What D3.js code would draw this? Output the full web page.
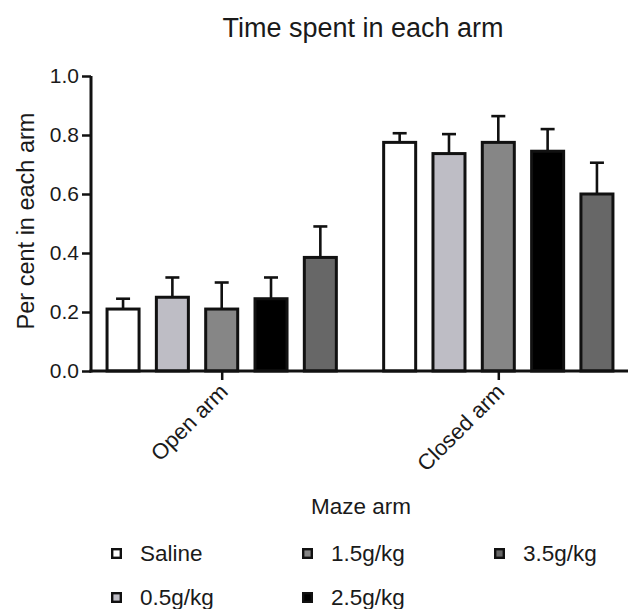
<!DOCTYPE html>
<html>
<head>
<meta charset="utf-8">
<script src="https://cdn.jsdelivr.net/npm/d3@7"></script>
<style>
  html, body { margin: 0; padding: 0; background: #fff; }
  svg { display: block; font-family: "Liberation Sans", Arial, Helvetica, sans-serif; }
  text { fill: #1a1a1a; }
</style>
</head>
<body>
<svg id="chart" width="628" height="609"></svg>
<script>
// Maze arms (x categories) and treatment groups (series)
const arms = ["Open arm", "Closed arm"];
const groups = ["Saline", "0.5g/kg", "1.5g/kg", "2.5g/kg", "3.5g/kg"];
const groupColors = ["#ffffff", "#bebdc5", "#868686", "#000000", "#676767"];

// Mean fraction of time per group, for each arm
const openMeans   = [0.21, 0.25, 0.21, 0.245, 0.385];
const closedMeans = [0.775, 0.737, 0.775, 0.745, 0.60];
// Upper end of each error bar (mean + SEM)
const openErrTop   = [0.245, 0.317, 0.30, 0.317, 0.49];
const closedErrTop = [0.806, 0.803, 0.864, 0.82, 0.706];

const yTicks = [0, 0.2, 0.4, 0.6, 0.8, 1.0];

const svg = d3.select("#chart");
const plotLeft = 91, plotRight = 629, plotTop = 76, plotBottom = 371;

const x = d3.scalePoint().domain(arms).range([plotLeft, plotRight]).padding(0.4725);
const xInner = d3.scaleBand().domain(groups).range([-123.3, 123.3])
  .paddingInner(0.29).paddingOuter(0.145);
const y = d3.scaleLinear().domain([0, 1]).range([plotBottom, plotTop]);
const color = d3.scaleOrdinal().domain(groups).range(groupColors);

const rows = [];
arms.forEach((arm, ai) => {
  const means = ai === 0 ? openMeans : closedMeans;
  const tops = ai === 0 ? openErrTop : closedErrTop;
  groups.forEach((g, gi) => rows.push({ arm, group: g, mean: means[gi], errTop: tops[gi] }));
});

// Error bars (upper whisker only), drawn beneath the bars
const err = svg.append("g").attr("stroke", "#111").attr("stroke-width", 2.6);
rows.forEach(d => {
  const cx = x(d.arm) + xInner(d.group) + xInner.bandwidth() / 2;
  err.append("line").attr("x1", cx).attr("x2", cx).attr("y1", y(d.mean)).attr("y2", y(d.errTop));
  err.append("line").attr("x1", cx - 7).attr("x2", cx + 7).attr("y1", y(d.errTop)).attr("y2", y(d.errTop));
});

// Bars
svg.append("g").selectAll("rect").data(rows).join("rect")
  .attr("x", d => x(d.arm) + xInner(d.group) + 1.5)
  .attr("width", xInner.bandwidth() - 3)
  .attr("y", d => y(d.mean))
  .attr("height", d => y(0) - y(d.mean))
  .attr("fill", d => color(d.group))
  .attr("stroke", "#111")
  .attr("stroke-width", 3);

// Y axis
const yAxis = svg.append("g").attr("transform", `translate(${plotLeft},0)`)
  .call(d3.axisLeft(y).tickValues(yTicks).tickFormat(d3.format(".1f")).tickSize(9).tickPadding(3));
yAxis.select(".domain").attr("stroke", "#111").attr("stroke-width", 3)
  .attr("d", `M0,${plotTop}V${plotBottom + 1.5}`);
yAxis.selectAll(".tick line").attr("stroke", "#111").attr("stroke-width", 2.5);
yAxis.selectAll(".tick text").attr("font-size", 21).attr("fill", "#1a1a1a")
  .attr("font-family", "Liberation Sans, Arial, sans-serif");

// X axis
const xAxis = svg.append("g").attr("transform", `translate(0,${plotBottom})`)
  .call(d3.axisBottom(x).tickSize(9).tickSizeOuter(0).tickFormat(() => ""));
xAxis.select(".domain").attr("stroke", "#111").attr("stroke-width", 3)
  .attr("d", `M${plotLeft - 1.5},0H${plotRight}`);
xAxis.selectAll(".tick line").attr("stroke", "#111").attr("stroke-width", 2.5);
xAxis.selectAll(".tick").append("text")
  .attr("transform", "translate(7,22) rotate(-45)")
  .attr("text-anchor", "end")
  .attr("font-size", 22)
  .attr("fill", "#1a1a1a")
  .text(d => d);

// Titles
svg.append("text").attr("x", 363).attr("y", 37).attr("text-anchor", "middle")
  .attr("font-size", 27).text("Time spent in each arm");
svg.append("text").attr("transform", "translate(34,221) rotate(-90)")
  .attr("text-anchor", "middle").attr("font-size", 23.5).text("Per cent in each arm");
svg.append("text").attr("x", 361).attr("y", 514).attr("text-anchor", "middle")
  .attr("font-size", 22.5).text("Maze arm");

// Legend: column-major, two rows
const legendCols = [111, 302, 494];
const legendRows = [548, 592];
const legend = svg.append("g");
groups.forEach((g, i) => {
  const cx = legendCols[Math.floor(i / 2)];
  const cy = legendRows[i % 2];
  legend.append("rect").attr("x", cx + 1.2).attr("y", cy + 1.2).attr("width", 8.6).attr("height", 8.6)
    .attr("fill", color(g)).attr("stroke", "#111").attr("stroke-width", 2.4);
  legend.append("text").attr("x", cx + 29).attr("y", cy + 13).attr("font-size", 22.5).text(g);
});
</script>
</body>
</html>
